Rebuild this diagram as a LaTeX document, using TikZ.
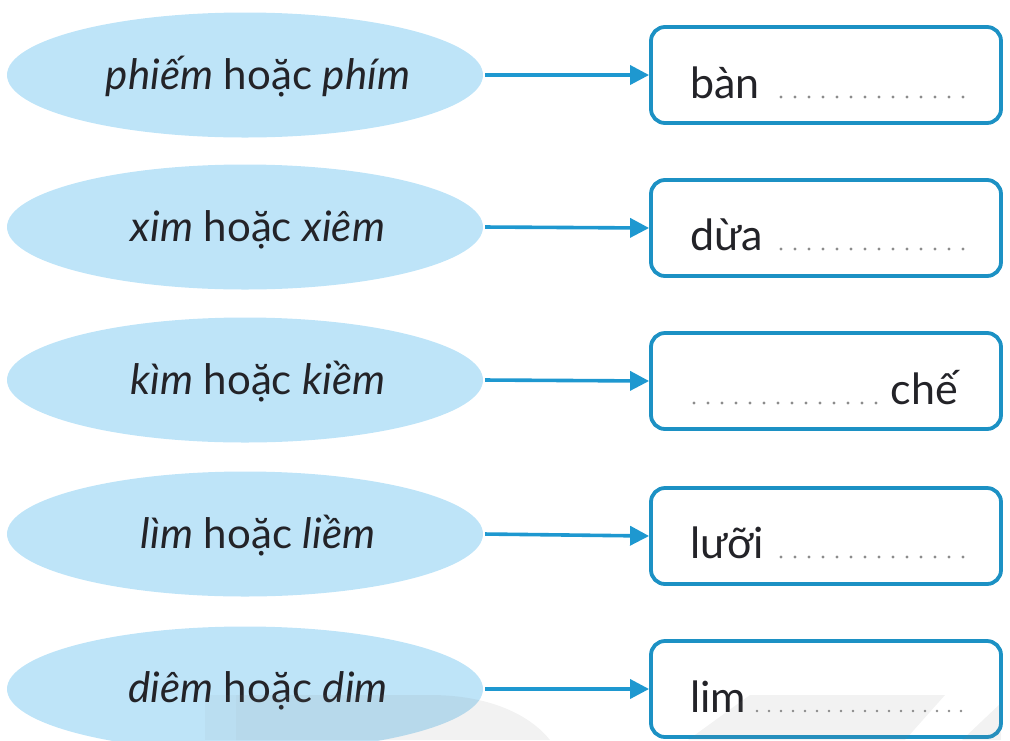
\documentclass[tikz,border=0pt]{standalone}
\usepackage{fontspec}
\setmainfont{Lato}
\usetikzlibrary{shapes.geometric,arrows.meta}
\definecolor{ellfill}{RGB}{190,228,248}
\definecolor{boxblue}{RGB}{28,145,196}
\definecolor{arrblue}{RGB}{30,152,208}
\definecolor{txt}{RGB}{35,35,40}
\definecolor{dotgray}{RGB}{140,140,140}
\begin{document}
\begin{tikzpicture}[x=1pt,y=-1pt,
  oval/.style={ellipse, fill=ellfill, minimum width=476pt, minimum height=125pt, inner sep=0pt},
  slot/.style={draw=boxblue, line width=3.8pt, rounded corners=14pt, minimum width=350pt, minimum height=96pt, fill=white, inner sep=0pt},
  link/.style={draw=arrblue, line width=3.6pt, shorten <=2pt, -{Triangle[length=19pt,width=19pt]}},
  ovtext/.style={font=\fontsize{42}{42}\selectfont, text=txt, anchor=base, inner sep=0pt},
  bxtext/.style={font=\fontsize{43}{43}\selectfont, text=txt, anchor=base west, inner sep=0pt},
  bxtextr/.style={font=\fontsize{43}{43}\selectfont, text=txt, anchor=base east, inner sep=0pt},
  dotf/.style={fill=dotgray},
  wmark/.style={fill=gray, opacity=0.10},
]
\useasboundingbox (0,0) rectangle (1010,740);
\clip (0,0) rectangle (1010,740);
% ovals
\node[oval] (e1) at (245,75) {};
\node[oval] (e2) at (245,227) {};
\node[oval] (e3) at (245,380) {};
\node[oval] (e4) at (245,534) {};
\node[oval] (e5) at (245,689) {};
\node[ovtext] (t1) at (258,89) {\textit{phiếm} hoặc \textit{phím}};
\node[ovtext] (t2) at (258,241) {\textit{xim} hoặc \textit{xiêm}};
\node[ovtext] (t3) at (258,394) {\textit{kìm} hoặc \textit{kiềm}};
\node[ovtext] (t4) at (258,548) {\textit{lìm} hoặc \textit{liềm}};
\node[ovtext] (t5) at (258,702) {\textit{diêm} hoặc \textit{dim}};
% boxes
\node[slot] (b1) at (826,75) {};
\node[slot] (b2) at (826,228) {};
\node[slot] (b3) at (826,381) {};
\node[slot] (b4) at (826,536) {};
\node[slot] (b5) at (826,689) {};
% arrows
\foreach \k in {1,...,5} \draw[link] (e\k.east) -- (b\k.west);
% box texts
\node[bxtext] (w1) at (690,98) {bàn};
\foreach \x in {781,795,...,966} \fill[dotf] (\x,97) circle (1.6pt);
\node[bxtext] (w2) at (690,250) {dừa};
\foreach \x in {781,795,...,966} \fill[dotf] (\x,249) circle (1.6pt);
\foreach \x in {694,708,...,880} \fill[dotf] (\x,403) circle (1.6pt);
\node[bxtextr] (w3) at (958,404) {chế};
\node[bxtext] (w4) at (690,558) {lưỡi};
\foreach \x in {781,795,...,966} \fill[dotf] (\x,557) circle (1.6pt);
\node[bxtext] (w5) at (690,712) {lim};
\foreach \x in {757,769,...,966} \fill[dotf] (\x,711) circle (1.3pt);
% faint watermark
\fill[wmark, opacity=0.05] (205,695) rectangle (236,740);
\fill[wmark] (236,695) -- (430,695) .. controls (490,695) and (530,715) .. (550,740) -- (236,740) -- cycle;
\fill[wmark] (750,695) -- (945,695) -- (905,740) -- (688,740) -- cycle;
\fill[wmark] (962,740) -- (1001,703) -- (1001,740) -- cycle;
\end{tikzpicture}
\end{document}
